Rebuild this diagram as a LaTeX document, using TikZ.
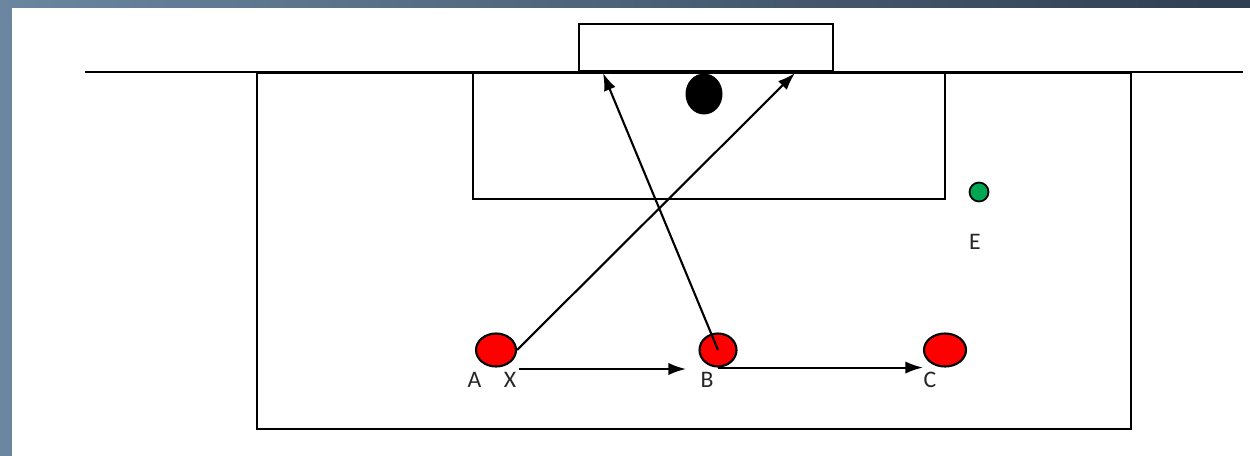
\documentclass[tikz,border=0pt]{standalone}
\usepackage{fontspec}
\setmainfont{Carlito}
\usetikzlibrary{shapes.geometric,arrows.meta}
\definecolor{slateL}{HTML}{6A86A0}
\definecolor{slateR}{HTML}{2F3E50}
\definecolor{playerred}{HTML}{FF0000}
\definecolor{conegreen}{HTML}{00A651}
\tikzset{
  pitch/.style={line width=1.2pt},
  pass/.style={->, >={Latex[length=10pt,width=7pt]}, line width=1.2pt},
  player/.style={ellipse, draw, line width=1.2pt, fill=playerred, inner sep=0pt,
    minimum width=0.8cm, minimum height=0.66cm},
  letter/.style={font=\fontsize{13.5}{15}\selectfont, text=black!85, inner sep=0pt},
}
\begin{document}
\begin{tikzpicture}[x=0.02cm, y=-0.02cm]
\useasboundingbox (0,0) rectangle (1250,456);

\shade[left color=slateL, right color=slateR] (0,0) rectangle (1250,456);
\fill[white] (12,8) rectangle (1250,456);

\draw[pitch] (85,72) -- (1243,72);
\draw[pitch] (257,73) rectangle (1131,429);
\draw[pitch] (473,73) rectangle (945,199);
\draw[pitch] (579,24) rectangle (833,71);

\node[ellipse, fill=black, inner sep=0pt, minimum width=0.74cm, minimum height=0.82cm] (ball) at (704,94) {};
\node[circle, draw, line width=1pt, fill=conegreen, inner sep=0pt, minimum size=0.38cm] (coneE) at (979,192) {};
\node[letter] (labE) at (975,242) {E};

\node[player] (playerA) at (496,350) {};
\node[player, minimum width=0.74cm] (playerB) at (718,350) {};
\node[player, minimum width=0.84cm] (playerC) at (945,350) {};

\node[letter] (labA) at (474.5,380) {A};
\node[letter] (labX) at (510,380) {X};
\node[letter] (labB) at (707,380) {B};
\node[letter] (labC) at (930,380) {C};

\coordinate (postL) at (603,73);
\coordinate (postR) at (795,73);
\coordinate (runX) at (519,369);
\coordinate (runB) at (686,369);

\draw[pass] (playerA.east) -- (postR);
\draw[pass] (playerB.center) -- (postL);
\draw[pass] (runX) -- (runB);
\draw[pass] (playerB.south) -- (playerB.south -| playerC.west);

\end{tikzpicture}
\end{document}
